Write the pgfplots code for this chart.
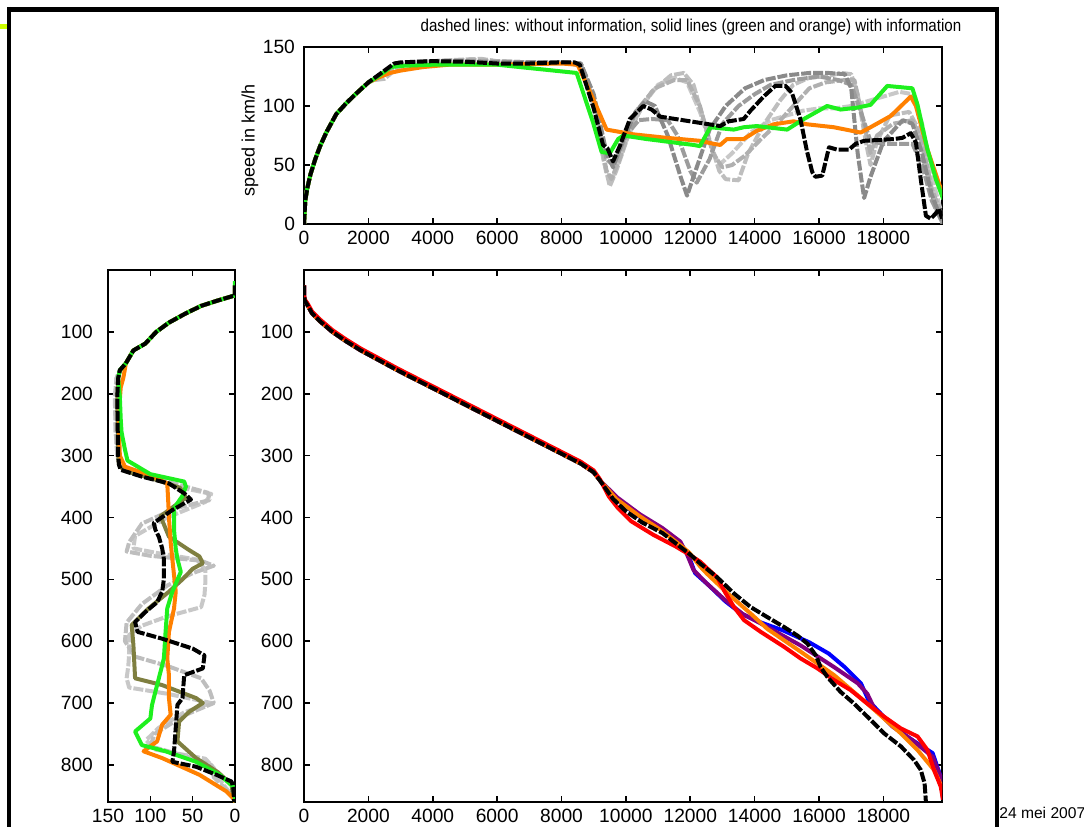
\documentclass[border=0pt]{standalone}
\usepackage{pgfplots}
\pgfplotsset{compat=1.18}
\usepackage{fontspec}
\setmainfont{Liberation Sans}
\newfontfamily\titlefont[FakeStretch=0.88]{Liberation Sans}
\definecolor{gA}{HTML}{BEBEBE}
\definecolor{gB}{HTML}{B0B0B0}
\definecolor{gC}{HTML}{8A8A8A}
\definecolor{gD}{HTML}{9C9C9C}
\definecolor{gE}{HTML}{C8C8C8}
\definecolor{mgreen}{HTML}{1EF01E}
\definecolor{morange}{HTML}{FF8000}
\definecolor{molive}{HTML}{7F7F40}
\definecolor{mpurple}{HTML}{800080}
\definecolor{mblue}{HTML}{0000FF}
\definecolor{mred}{HTML}{FF0000}
\definecolor{yel}{HTML}{CCFF00}
\pgfplotsset{
  mat/.style={scale only axis, axis line style={line width=0.9pt}, tick style={line width=0.8pt, black},
    major tick length=3pt, tick align=inside,
    ticklabel style={font=\fontsize{9.6}{11}\selectfont},
    /pgf/number format/assume math mode=true, /pgf/number format/1000 sep={},
    scaled ticks=false, every axis plot/.append style={no marks, line join=round}},
  dsh/.style={line width=2pt, dash pattern=on 5pt off 1pt},
  sl/.style={line width=2pt},
}
\begin{document}
\begin{tikzpicture}
\path[use as bounding box] (0,0) rectangle (542pt,413.5pt);
% frame
\fill[yel] (0,399pt) rectangle (3.5pt,401.5pt);
\draw[line width=2.5pt] (3.5pt,408.75pt) -- (499.5pt,408.75pt);
\draw[line width=2pt] (4.5pt,410pt) -- (4.5pt,0);
\draw[line width=2pt] (498.5pt,410pt) -- (498.5pt,0);
\node[anchor=west, inner sep=0pt, font=\fontsize{7.8}{9}\selectfont] at (499.5pt,7pt) {24 mei 2007};
\node[font=\titlefont\fontsize{8.6}{10}\selectfont, inner sep=0pt] at (345.5pt,400pt) {dashed lines: without information, solid lines (green and orange) with information};
\node[rotate=90, font=\fontsize{9}{10}\selectfont, inner sep=0pt] at (125pt,343.5pt) {speed in km/h};

% ---------- top axis: speed vs position
\begin{axis}[mat, at={(152pt,301.5pt)}, anchor=south west, width=319pt, height=88.5pt,
  xmin=0, xmax=19820, ymin=0, ymax=150, xtick={0,2000,...,18000}, ytick={0,50,100,150},
  yticklabel style={xshift=-1pt}]
\addplot[gE, dsh] coordinates {(0,0) (40,20) (100,30) (200,42) (350,55) (500,66) (700,78) (1000,93) (1300,102) (1600,110) (2000,120) (2400,127) (2800,134) (3200,136) (4000,138) (5000,139) (6000,138) (7000,137) (8000,137) (8600,135) (9000,100) (9400,42) (9600,40) (10000,70) (10500,100) (11000,118) (11500,124) (11900,120) (12300,95) (12700,62) (12900,50) (13300,60) (13900,78) (14500,88) (15000,92) (15500,96) (16000,98) (16500,98) (17000,100) (17500,104) (18000,108) (18500,112) (18900,110) (19200,85) (19500,40) (19850,5)};
\addplot[gA, dsh] coordinates {(0,0) (40,20) (100,30) (200,42) (350,55) (500,66) (700,78) (1000,93) (1300,102) (1600,110) (2000,120) (2200,122) (2500,123) (2800,130) (3200,136) (4000,138) (5000,139.5) (5500,140) (6000,138) (7000,137) (8000,137) (8600,134) (9000,100) (9300,55) (9500,32) (9700,45) (10200,85) (10800,112) (11400,126) (11800,128) (12100,118) (12500,80) (12900,45) (13100,38) (13500,37) (13800,60) (14300,85) (14800,105) (15200,118) (15700,124) (16200,125) (16700,128) (17000,127) (17200,110) (17450,70) (17600,50) (17800,70) (18200,92) (18800,95) (19100,80) (19400,40) (19600,15) (19850,0)};
\addplot[gB, dsh] coordinates {(0,0) (40,20) (100,30) (200,42) (350,55) (500,66) (700,78) (1000,93) (1300,102) (1600,110) (2000,120) (2400,126) (2800,133) (3200,136) (4000,138) (5000,139) (6000,138) (7000,137) (8000,137) (8600,135) (9000,105) (9400,45) (9550,38) (9800,55) (10300,95) (10900,115) (11500,122) (11900,122) (12300,100) (12700,60) (13000,48) (13300,50) (13700,58) (14200,72) (14700,85) (15200,100) (15700,115) (16200,120) (16800,122) (17100,122) (17350,90) (17600,60) (17800,75) (18300,85) (18900,88) (19200,70) (19500,30) (19850,5)};
\addplot[gD, dsh] coordinates {(0,0) (40,20) (100,30) (200,42) (350,55) (500,66) (700,78) (1000,93) (1300,102) (1600,110) (2000,120) (2400,127) (2800,135) (3200,137) (4000,138) (5000,138) (6000,137) (7000,137) (8000,137) (8600,136) (9000,108) (9400,55) (9600,50) (10000,75) (10400,88) (10800,89) (11300,88) (11600,75) (12000,45) (12200,35) (12600,55) (13000,85) (13500,100) (14000,110) (14500,118) (15200,122) (16000,125) (16600,122) (17000,118) (17300,95) (17600,70) (18000,68) (18500,68) (18900,68) (19200,50) (19500,20) (19850,0)};
\addplot[gC, dsh] coordinates {(0,0) (40,20) (100,30) (200,42) (350,55) (500,66) (700,78) (1000,93) (1300,102) (1600,110) (2000,120) (2400,127) (2800,135) (3200,137) (4000,138) (5000,138) (6000,137) (7000,137) (8000,137) (8600,136) (9000,110) (9400,60) (9600,48) (9900,70) (10300,95) (10600,104) (10900,100) (11300,75) (11700,40) (11900,24) (12100,40) (12600,80) (13100,100) (13700,115) (14300,122) (15000,126) (15700,128) (16300,128) (16800,127) (17000,115) (17200,60) (17400,22) (17600,40) (18000,70) (18600,88) (18900,85) (19200,60) (19500,25) (19850,0)};
\addplot[morange, sl] coordinates {(0,0) (40,20) (100,30) (200,42) (350,55) (500,66) (700,78) (1000,93) (1300,102) (1600,110) (2000,120) (2300,124) (2670,128) (3000,130) (3700,133) (4500,135) (6000,135) (8000,136) (8500,135) (9000,105) (9400,80) (10230,76) (11270,73) (12300,70.5) (12720,68) (12930,67) (13140,72) (13660,72) (14070,79) (14590,84.5) (15210,87) (15630,84.5) (16460,82) (17290,77.5) (17600,82) (18230,91.6) (18850,108) (19010,100) (19370,63) (19680,38) (19860,24)};
\addplot[mgreen, sl] coordinates {(0,0) (40,20) (100,30) (200,42) (350,55) (500,66) (700,78) (1000,93) (1300,102) (1600,110) (2000,120) (2300,125) (2700,133) (3000,134) (4000,135) (5000,135) (6000,135) (6700,133) (8470,128) (8980,86) (9245,61) (9500,60) (9760,72) (9920,75) (10640,72) (12100,67) (12300,66) (12620,82) (13350,80) (13660,82) (14070,83) (15010,80) (15530,89) (16250,100) (16670,97) (17190,98.6) (17600,101) (18120,117) (18900,115) (19060,101) (19370,63) (19630,38) (19860,21)};
\addplot[black, dsh] coordinates {(0,0) (40,20) (100,30) (200,42) (350,55) (500,66) (700,78) (1000,93) (1300,102) (1600,110) (2000,120) (2400,128) (2800,136) (3000,137) (4000,138) (5000,137.5) (6000,136) (7000,136) (8000,137) (8400,137) (8570,135) (9000,98) (9290,67) (9430,64) (9600,53) (9810,66) (10125,89) (10540,100) (10800,97) (11060,91) (12000,87) (12930,83) (13190,87) (13660,89) (13870,96) (14280,108) (14640,117) (14960,117) (15160,111) (15420,89) (15630,61) (15790,44) (15890,40) (16100,41) (16310,65) (16570,63) (16930,63) (17140,68) (17400,70.5) (18330,72) (18590,73) (18850,77) (19010,69) (19160,38) (19320,7) (19470,4.5) (19630,9) (19730,13) (19840,3)};
\end{axis}

% ---------- left axis: time vs speed
\begin{axis}[mat, at={(54pt,12.5pt)}, anchor=south west, width=63.5pt, height=266pt,
  xmin=0, xmax=150, ymin=0, ymax=860, x dir=reverse, y dir=reverse,
  xtick={0,50,100,150}, ytick={100,200,...,800}, yticklabel style={xshift=-4pt}]
\addplot[gE, dsh] coordinates {(0,25) (0,41) (22,50) (40,58) (58,70) (78,85) (93,100) (106,119) (120,130) (129,151) (136,162) (140,175) (142,205) (141,259) (139,300) (136,318) (120,326) (70,350) (28,362) (35,375) (80,400) (118,430) (120,450) (90,458) (45,468) (35,485) (35,505) (36,525) (40,545) (80,560) (110,575) (125,590) (125,620) (126,640) (128,660) (125,675) (80,685) (28,700) (60,715) (90,740) (105,760) (95,775) (35,790) (25,805) (15,830) (0,855)};
\addplot[gA, dsh] coordinates {(0,25) (0,41) (22,50) (40,58) (58,70) (78,85) (93,100) (106,119) (120,130) (129,151) (136,162) (140,175) (141,205) (141,259) (139,300) (136,318) (120,328) (80,342) (32,360) (30,372) (70,385) (110,410) (125,440) (128,455) (100,462) (40,470) (25,478) (50,490) (80,510) (110,540) (128,570) (130,600) (118,625) (80,640) (40,660) (30,680) (25,700) (60,720) (95,750) (100,770) (60,785) (28,800) (25,820) (10,840) (0,858)};
\addplot[molive, sl] coordinates {(0,25) (0,41) (22,50) (40,58) (58,70) (78,85) (93,100) (106,119) (120,130) (129,151) (136,162) (138,175) (139,205) (138.5,259) (138,300) (137,315) (130,325) (100,336) (65,352) (58,368) (75,385) (88,398) (78,431) (55,452) (42,463) (38,474) (50,483) (62,500) (78,520) (102,547) (122,574) (120,606) (118,660) (86,671) (46,692) (38,700) (54,714) (66,730) (68,762) (46,789) (20,812) (4,832) (2,854) (0,860)};
\addplot[morange, sl] coordinates {(0,25) (0,41) (22,50) (40,58) (58,70) (78,85) (93,100) (106,119) (120,130) (129,151) (130,160) (132,175) (135,190) (136,210) (137,260) (136,300) (130,318) (100,332) (80,345) (79,370) (78,400) (76,440) (74,467) (70,520) (72,547) (78,585) (80,628) (78,655) (78,692) (76,719) (86,735) (92,762) (108,778) (86,789) (42,816) (10,843) (2,854) (0,860)};
\addplot[mgreen, sl] coordinates {(0,18) (0,41) (22,50) (40,58) (58,70) (78,85) (93,100) (106,119) (120,130) (129,151) (136,162) (138,175) (136,205) (135,240) (134,262) (130,290) (127,308) (100,330) (60,342) (58,350) (62,365) (72,385) (72,420) (70,450) (68,467) (64,488) (74,520) (80,547) (82,585) (84,628) (92,671) (98,703) (100,725) (118,746) (110,768) (82,778) (46,795) (18,816) (0,838) (0,860)};
\addplot[black, dsh] coordinates {(0,25) (0,41) (22,50) (40,58) (58,70) (78,85) (93,100) (106,119) (120,130) (129,151) (136,162) (138,175) (139,205) (138.5,259) (138,300) (137,315) (135,323) (110,334) (78,345) (60,361) (52,371) (74,388) (96,409) (94,420) (90,431) (86,450) (84,467) (84,500) (86,520) (92,537) (106,553) (118,569) (115,585) (86,596) (50,612) (36,623) (38,644) (60,655) (62,692) (68,703) (72,778) (74,795) (46,803) (22,816) (4,827) (2,838) (1,860)};
\end{axis}

% ---------- main axis: time vs position
\begin{axis}[mat, at={(152pt,12.5pt)}, anchor=south west, width=319pt, height=266pt,
  xmin=0, xmax=19820, ymin=0, ymax=860, y dir=reverse,
  xtick={0,2000,...,18000}, ytick={100,200,...,800}, yticklabel style={xshift=-2pt}]
\addplot[mblue, sl] coordinates {(0,25) (0,41) (27,50) (100,56) (250,70) (500,83) (880,100) (1300,115) (1765,130) (2300,145) (2830,160) (3200,170) (4000,191) (6000,244) (8000,297) (8600,313) (9000,327) (9190,340) (9700,371) (10400,398) (11100,420) (11700,442) (11950,462) (12150,490) (12600,511) (13100,536) (13600,556) (14100,568) (14900,583) (15700,602) (16300,620) (16800,642) (17300,668) (17550,697) (18300,738) (18900,760) (19530,781) (19850,830)};
\addplot[mpurple, sl] coordinates {(0,25) (0,41) (27,50) (100,56) (250,70) (500,83) (880,100) (1300,115) (1765,130) (2300,145) (2830,160) (3200,170) (4000,191) (6000,244) (8000,297) (8600,313) (9000,327) (9190,340) (9740,368) (10440,395) (11130,417) (11690,439) (11900,460) (12100,485) (12520,507) (13070,533) (13630,556) (14390,577) (15430,607) (16470,642) (17200,668) (17500,685) (17710,708) (18280,738) (18900,760) (19530,787) (19780,820) (19850,856)};
\addplot[morange, sl] coordinates {(0,25) (0,41) (27,50) (100,56) (250,70) (500,83) (880,100) (1300,115) (1765,130) (2300,145) (2830,160) (3200,170) (4000,191) (6000,244) (8000,297) (8600,313) (9000,327) (9190,340) (9700,370) (10400,397) (11100,421) (11700,445) (11970,457) (12320,480) (12520,491) (13210,525) (13910,557) (14390,580) (15430,617) (16470,655) (17500,701) (18540,749) (19060,776) (19570,808) (19850,840)};
\addplot[mred, sl] coordinates {(0,25) (0,41) (27,48) (100,53) (250,67) (500,80) (880,97) (1300,112) (1765,127) (2300,142) (2830,157) (3200,167) (4000,188) (6000,241) (8000,294) (8600,310) (9000,324) (9190,338) (9470,366) (9740,384) (10160,406) (10850,428) (11550,447) (11970,460) (12320,472) (12520,482) (12840,497) (13070,520) (13360,545) (13670,566) (14190,585) (14910,609) (15430,628) (15950,644) (16470,663) (16980,679) (17500,701) (18020,722) (18540,741) (19060,754) (19370,776) (19570,808) (19780,835) (19850,856)};
\addplot[black, dsh] coordinates {(0,25) (0,41) (27,50) (100,56) (250,70) (500,83) (880,100) (1300,115) (1765,130) (2300,145) (2830,160) (3200,170) (4000,191) (6000,244) (8000,297) (8600,313) (9000,327) (9190,340) (9600,370) (10000,390) (10500,408) (11130,425) (12000,460) (12320,475) (12840,497) (13360,523) (13880,545) (14390,561) (14910,577) (15330,591) (15640,604) (15900,623) (16050,642) (16260,658) (16670,682) (17090,701) (17500,722) (18020,749) (18540,770) (18950,792) (19160,808) (19280,830) (19320,860)};
\end{axis}
\end{tikzpicture}
\end{document}
